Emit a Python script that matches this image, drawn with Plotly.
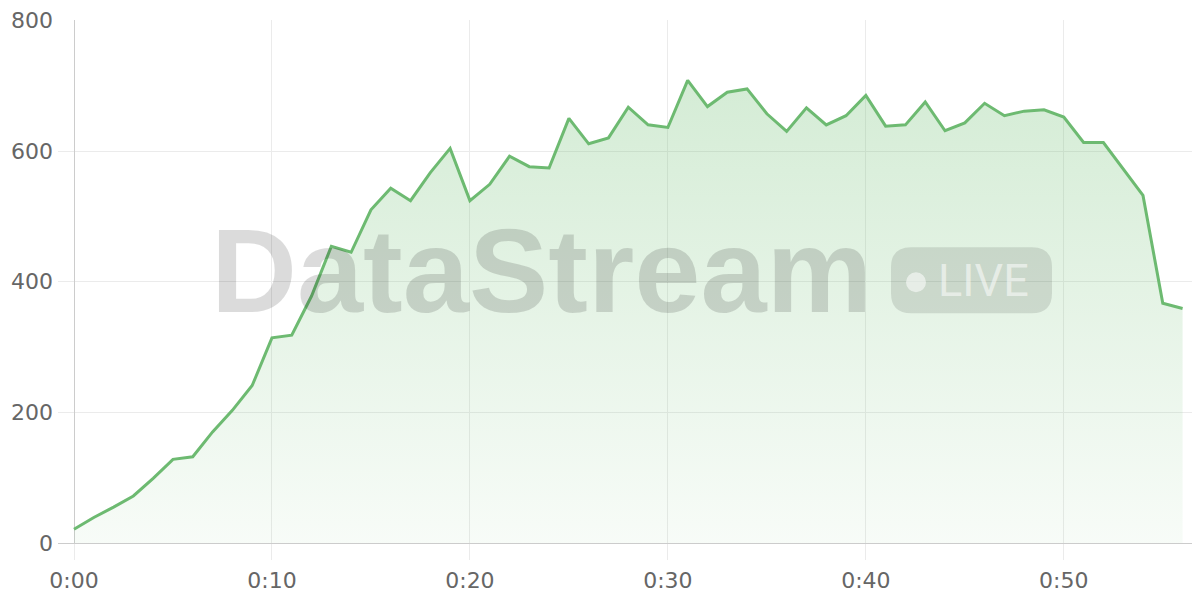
import plotly.graph_objects as go

# ---- data ----
minutes = list(range(0, 57))
viewers = [21, 39, 55, 72, 99, 128, 132, 170, 203, 241,
           314, 318, 378, 454, 445, 510, 543, 524, 567, 604,
           524, 549, 592, 576, 574, 650, 611, 620, 667, 640,
           636, 708, 668, 690, 695, 657, 630, 666, 640, 654,
           685, 638, 640, 675, 631, 643, 673, 654, 661, 663,
           652, 613, 613, 573, 532, 367, 359]
x_tick_vals = [0, 10, 20, 30, 40, 50]
x_tick_text = ["0:00", "0:10", "0:20", "0:30", "0:40", "0:50"]
y_tick_vals = [0, 200, 400, 600, 800]

LINE = "#6DBA71"
GRID = "#ebebeb"
AXIS = "#cccccc"
TICKFONT = dict(family="DejaVu Sans", size=22, color="#666666")

fig = go.Figure()
fig.add_trace(go.Scatter(
    x=minutes, y=viewers, mode="lines",
    line=dict(color=LINE, width=3),
    fill="tozeroy",
    fillgradient=dict(type="vertical",
                      colorscale=[[0, "rgba(102,187,106,0.05)"],
                                  [1, "rgba(102,187,106,0.28)"]]),
    hoverinfo="skip", showlegend=False,
))

OFF = 8  # default body margin of the html page
W, H = 1200 - OFF, 600 - OFF
# window pixel positions of plot area
PL, PR, PT, PB = 58, 1200, 19.5, 543
ml, mr, mt, mb = PL - OFF, 0, PT - OFF, H - (PB - OFF)
pw, ph = PR - PL, PB - PT

def px(x):
    return (x - PL) / pw

def py(y):
    return (PB - y) / ph

# rounded badge path in paper coords
bx0, bx1, by0, by1 = 891, 1052, 247, 313
r = 20
rx, ry = r / pw, r / ph
X0, X1, Y0, Y1 = px(bx0), px(bx1), py(by1), py(by0)
path = (f"M {X0+rx},{Y0} L {X1-rx},{Y0} Q {X1},{Y0} {X1},{Y0+ry} "
        f"L {X1},{Y1-ry} Q {X1},{Y1} {X1-rx},{Y1} "
        f"L {X0+rx},{Y1} Q {X0},{Y1} {X0},{Y1-ry} "
        f"L {X0},{Y0+ry} Q {X0},{Y0} {X0+rx},{Y0} Z")

fig.update_layout(
    width=W, height=H,
    margin=dict(l=ml, r=mr, t=mt, b=mb, pad=0),
    paper_bgcolor="white", plot_bgcolor="white",
    xaxis=dict(range=[-0.808, 56.88], tickvals=x_tick_vals, ticktext=x_tick_text,
               showgrid=True, gridcolor=GRID, gridwidth=1,
               zeroline=True, zerolinecolor=AXIS, zerolinewidth=1,
               showline=True, linecolor=AXIS, linewidth=1,
               ticks="outside", ticklen=16, tickcolor=GRID, tickwidth=1,
               ticklabelstandoff=2,
               tickfont=TICKFONT, fixedrange=True),
    yaxis=dict(range=[0, 800.5], tickvals=y_tick_vals,
               showgrid=True, gridcolor=GRID, gridwidth=1,
               zeroline=False, showline=False, ticks="",
               ticklabelstandoff=4,
               tickfont=TICKFONT, fixedrange=True),
    shapes=[
        dict(type="path", path=path, xref="paper", yref="paper",
             fillcolor="rgba(0,0,0,0.11)", line=dict(width=0), layer="above"),
        dict(type="circle", xref="paper", yref="paper",
             x0=px(906), x1=px(926), y0=py(292), y1=py(272),
             fillcolor="rgba(255,255,255,0.55)", line=dict(width=0), layer="above"),
    ],
    annotations=[
        dict(text="DataStream", xref="paper", yref="paper",
             x=px(541), y=py(270), xanchor="center", yanchor="middle",
             showarrow=False,
             font=dict(family="Liberation Sans", size=119, weight="bold",
                       color="rgba(0,0,0,0.14)")),
        dict(text="LIVE", xref="paper", yref="paper",
             x=px(983), y=py(280), xanchor="center", yanchor="middle",
             showarrow=False,
             font=dict(family="Roboto", size=45,
                       color="rgba(255,255,255,0.55)")),
    ],
)

fig.write_html("out.html")
